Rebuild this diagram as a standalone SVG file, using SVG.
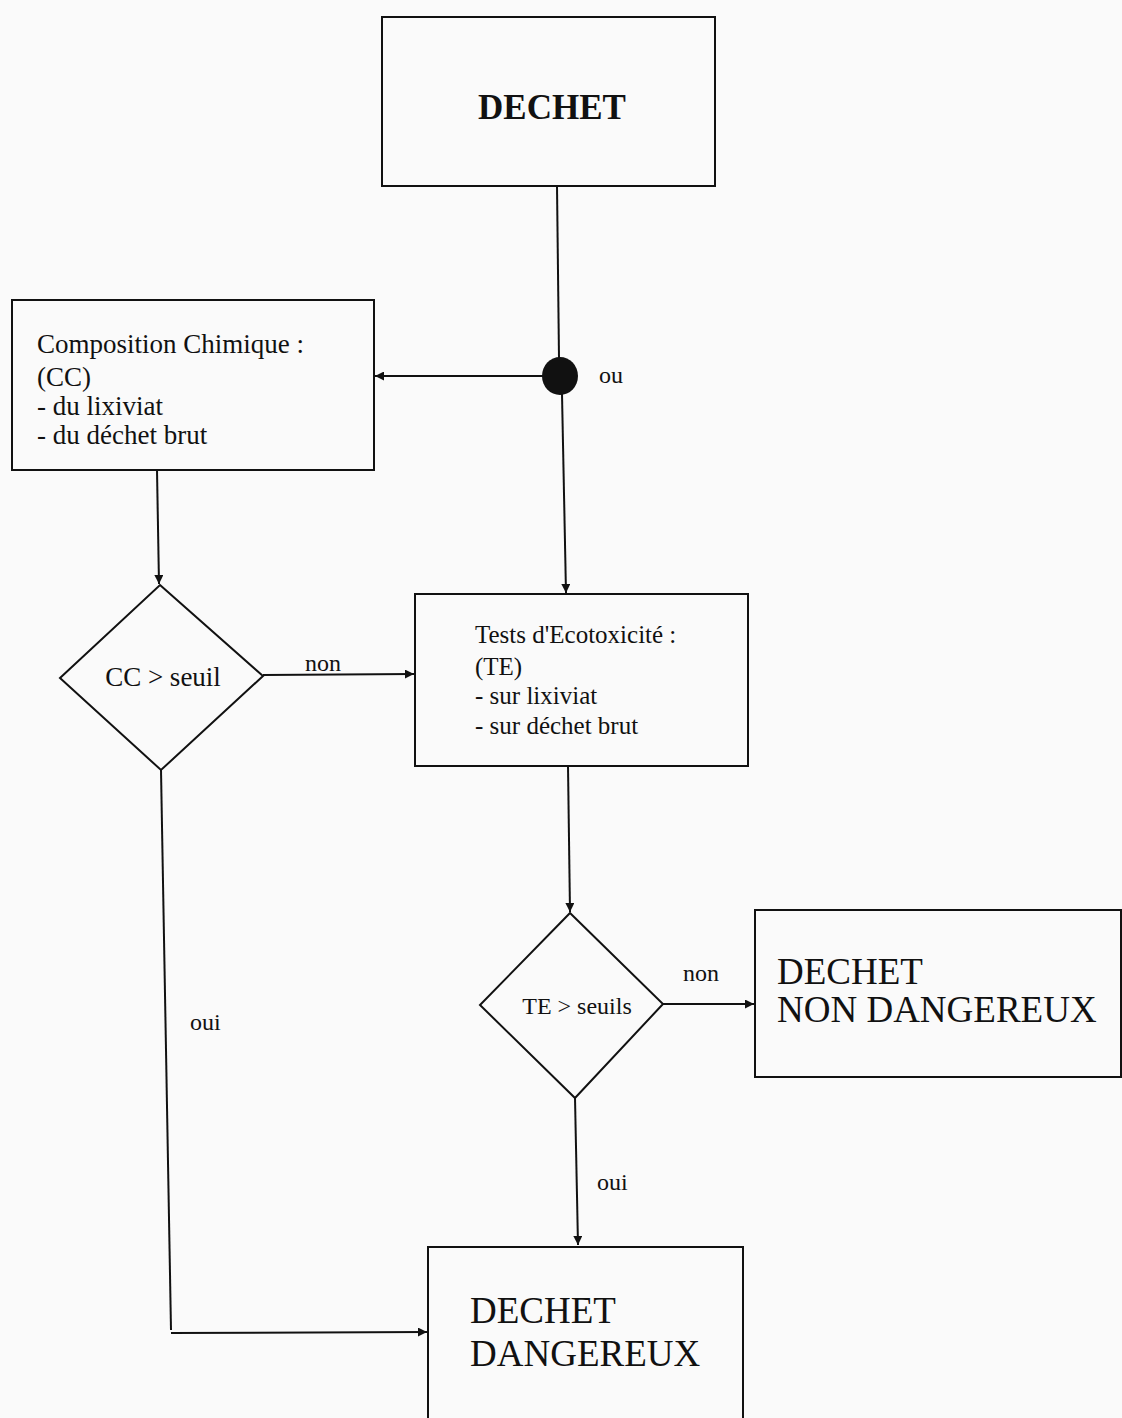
<svg xmlns="http://www.w3.org/2000/svg" width="1122" height="1418" viewBox="0 0 1122 1418">
<defs>
<marker id="arr" viewBox="0 0 10 10" refX="10" refY="5" markerWidth="9" markerHeight="9" markerUnits="userSpaceOnUse" orient="auto">
<path d="M0,0 L10,5 L0,10 z" fill="#111"/>
</marker>
</defs>
<style>
.box{fill:none;stroke:#111;stroke-width:2}
.ln{fill:none;stroke:#111;stroke-width:2}
.t{font-family:"Liberation Serif",serif;fill:#111}
.sm{font-size:27px}
.te{font-size:25px}
.lbl{font-size:24px}
.big{font-size:37px}
</style>
<rect width="1122" height="1418" fill="#fafafa"/>
<g id="connectors">
<line class="ln" x1="557" y1="186" x2="559" y2="358"/>
<line class="ln" x1="543" y1="376" x2="375" y2="376" marker-end="url(#arr)"/>
<line class="ln" x1="562" y1="394" x2="566" y2="593" marker-end="url(#arr)"/>
<line class="ln" x1="157" y1="470" x2="159" y2="584" marker-end="url(#arr)"/>
<line class="ln" x1="263" y1="675" x2="414" y2="674" marker-end="url(#arr)"/>
<text class="t lbl" x="305" y="671">non</text>
<line class="ln" x1="568" y1="766" x2="570" y2="912" marker-end="url(#arr)"/>
<line class="ln" x1="663" y1="1004" x2="754" y2="1004" marker-end="url(#arr)"/>
<text class="t lbl" x="683" y="981">non</text>
<line class="ln" x1="575" y1="1098" x2="578" y2="1245" marker-end="url(#arr)"/>
<text class="t lbl" x="597" y="1190">oui</text>
<polyline class="ln" points="161,770 171,1330"/>
<line class="ln" x1="171" y1="1333" x2="427" y2="1332" marker-end="url(#arr)"/>
<text class="t lbl" x="190" y="1030">oui</text>
</g>
<g id="dechet">
<rect class="box" x="382" y="17" width="333" height="169"/>
<text class="t" x="552" y="119" font-size="35" font-weight="bold" text-anchor="middle">DECHET</text>
</g>
<g id="ou">
<ellipse cx="560" cy="376" rx="18" ry="19" fill="#111"/>
<text class="t lbl" x="599" y="383">ou</text>
</g>
<g id="cc">
<rect class="box" x="12" y="300" width="362" height="170"/>
<text class="t sm" x="37" y="353">Composition Chimique :</text>
<text class="t sm" x="37" y="386">(CC)</text>
<text class="t sm" x="37" y="415">- du lixiviat</text>
<text class="t sm" x="37" y="444">- du déchet brut</text>
</g>
<g id="cc-seuil">
<polygon class="box" points="160,585 263,676 161,770 60,678"/>
<text class="t sm" x="163" y="686" text-anchor="middle">CC &gt; seuil</text>
</g>
<g id="te">
<rect class="box" x="415" y="594" width="333" height="172"/>
<text class="t te" x="475" y="643">Tests d'Ecotoxicité :</text>
<text class="t te" x="475" y="675">(TE)</text>
<text class="t te" x="475" y="704">- sur lixiviat</text>
<text class="t te" x="475" y="734">- sur déchet brut</text>
</g>
<g id="te-seuils">
<polygon class="box" points="570,913 663,1004 575,1098 480,1005"/>
<text class="t lbl" x="577" y="1014" text-anchor="middle">TE &gt; seuils</text>
</g>
<g id="non-dangereux">
<rect class="box" x="755" y="910" width="366" height="167"/>
<text class="t big" x="777" y="984">DECHET</text>
<text class="t big" x="777" y="1022">NON DANGEREUX</text>
</g>
<g id="dangereux">
<rect class="box" x="428" y="1247" width="315" height="180"/>
<text class="t big" x="470" y="1323">DECHET</text>
<text class="t big" x="470" y="1366">DANGEREUX</text>
</g>
</svg>
